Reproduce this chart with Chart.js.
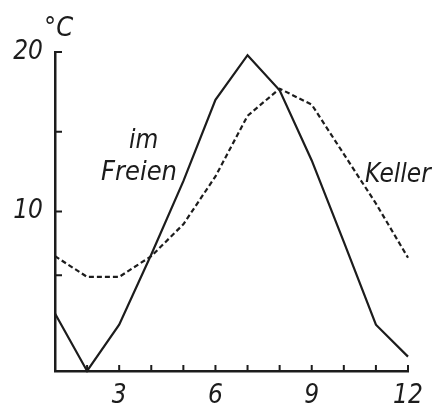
<!DOCTYPE html>
<html>
<head>
<meta charset="utf-8">
<script src="https://cdn.jsdelivr.net/npm/chart.js@4/dist/chart.umd.min.js"></script>
<style>
  html, body { margin: 0; padding: 0; background: #fff; }
</style>
</head>
<body>
<canvas id="myChart" width="438" height="406"></canvas>
<script>
// Monate 1..12
const months = [1, 2, 3, 4, 5, 6, 7, 8, 9, 10, 11, 12];
// Temperatur im Freien (°C)
const freien = [3.6, 0, 2.9, 7.3, 11.9, 17.0, 19.8, 17.6, 13.2, 8.1, 2.9, 0.9];
// Temperatur im Keller (°C)
const keller = [7.2, 5.9, 5.9, 7.2, 9.2, 12.2, 16.0, 17.7, 16.7, 13.6, 10.5, 7.1];

const xLabels = [3, 6, 9, 12];
const xTickMarks = [2, 3, 4, 5, 6, 7, 8, 9, 10, 11, 12];
const yLabels = [10, 20];
const yTickMarks = [6, 10, 15, 20];

const ink = '#1c1c1c';
const hand = '"DejaVu Sans Condensed", "Liberation Sans Narrow", "DejaVu Sans", sans-serif';

// tick marks pointing inward + hand lettering
const decor = {
  id: 'decor',
  afterDraw(chart) {
    const { ctx, scales: { x, y } } = chart;
    ctx.save();
    ctx.strokeStyle = ink;
    ctx.lineWidth = 2;
    ctx.beginPath();
    xTickMarks.forEach(v => {
      const px = x.getPixelForValue(v);
      ctx.moveTo(px, y.bottom);
      ctx.lineTo(px, y.bottom - 6);
    });
    yTickMarks.forEach(v => {
      const py = y.getPixelForValue(v);
      ctx.moveTo(x.left, py);
      ctx.lineTo(x.left + 7, py);
    });
    ctx.stroke();

    ctx.fillStyle = ink;
    ctx.textAlign = 'left';
    ctx.textBaseline = 'alphabetic';
    ctx.font = 'italic 27px ' + hand;
    ctx.fillText('°C', 44, 36);
    ctx.font = 'italic 26px ' + hand;
    ctx.fillText('im', 129, 148);
    ctx.font = 'italic 27px ' + hand;
    ctx.fillText('Freien', 101, 180);
    ctx.font = 'italic 26px ' + hand;
    ctx.fillText('Keller', 365, 182);
    ctx.restore();
  }
};

let myChart;

const setup = () => {
  const ctxt = document.getElementById('myChart').getContext('2d');

  myChart = new Chart(ctxt, {
    type: 'line',
    data: {
      datasets: [
        {
          label: 'im Freien',
          data: months.map((m, i) => ({ x: m, y: freien[i] })),
          borderColor: ink,
          borderWidth: 2.2,
          pointRadius: 0,
          tension: 0,
          clip: false
        },
        {
          label: 'Keller',
          data: months.map((m, i) => ({ x: m, y: keller[i] })),
          borderColor: ink,
          borderWidth: 2.2,
          borderDash: [5, 3],
          pointRadius: 0,
          tension: 0,
          clip: false
        }
      ]
    },
    options: {
      responsive: false,
      animation: false,
      layout: { padding: { left: 0, top: 52, right: 30, bottom: 0 } },
      plugins: {
        legend: { display: false },
        tooltip: { enabled: false }
      },
      scales: {
        x: {
          type: 'linear',
          min: 1,
          max: 12,
          afterBuildTicks: s => { s.ticks = xLabels.map(v => ({ value: v })); },
          afterFit: s => { s.height = 35; },
          grid: { display: false },
          border: { display: true, color: ink, width: 2.5 },
          ticks: {
            color: ink,
            padding: 2,
            maxRotation: 0,
            font: { family: hand, size: 26, style: 'italic' }
          }
        },
        y: {
          min: 0,
          max: 20,
          afterBuildTicks: s => { s.ticks = yLabels.map(v => ({ value: v })); },
          afterFit: s => { s.width = 55; },
          grid: { display: false },
          border: { display: true, color: ink, width: 2.5 },
          ticks: {
            color: ink,
            padding: 4,
            font: { family: hand, size: 26, style: 'italic' }
          }
        }
      }
    },
    plugins: [decor]
  });
};

window.addEventListener('DOMContentLoaded', setup);
</script>
</body>
</html>
